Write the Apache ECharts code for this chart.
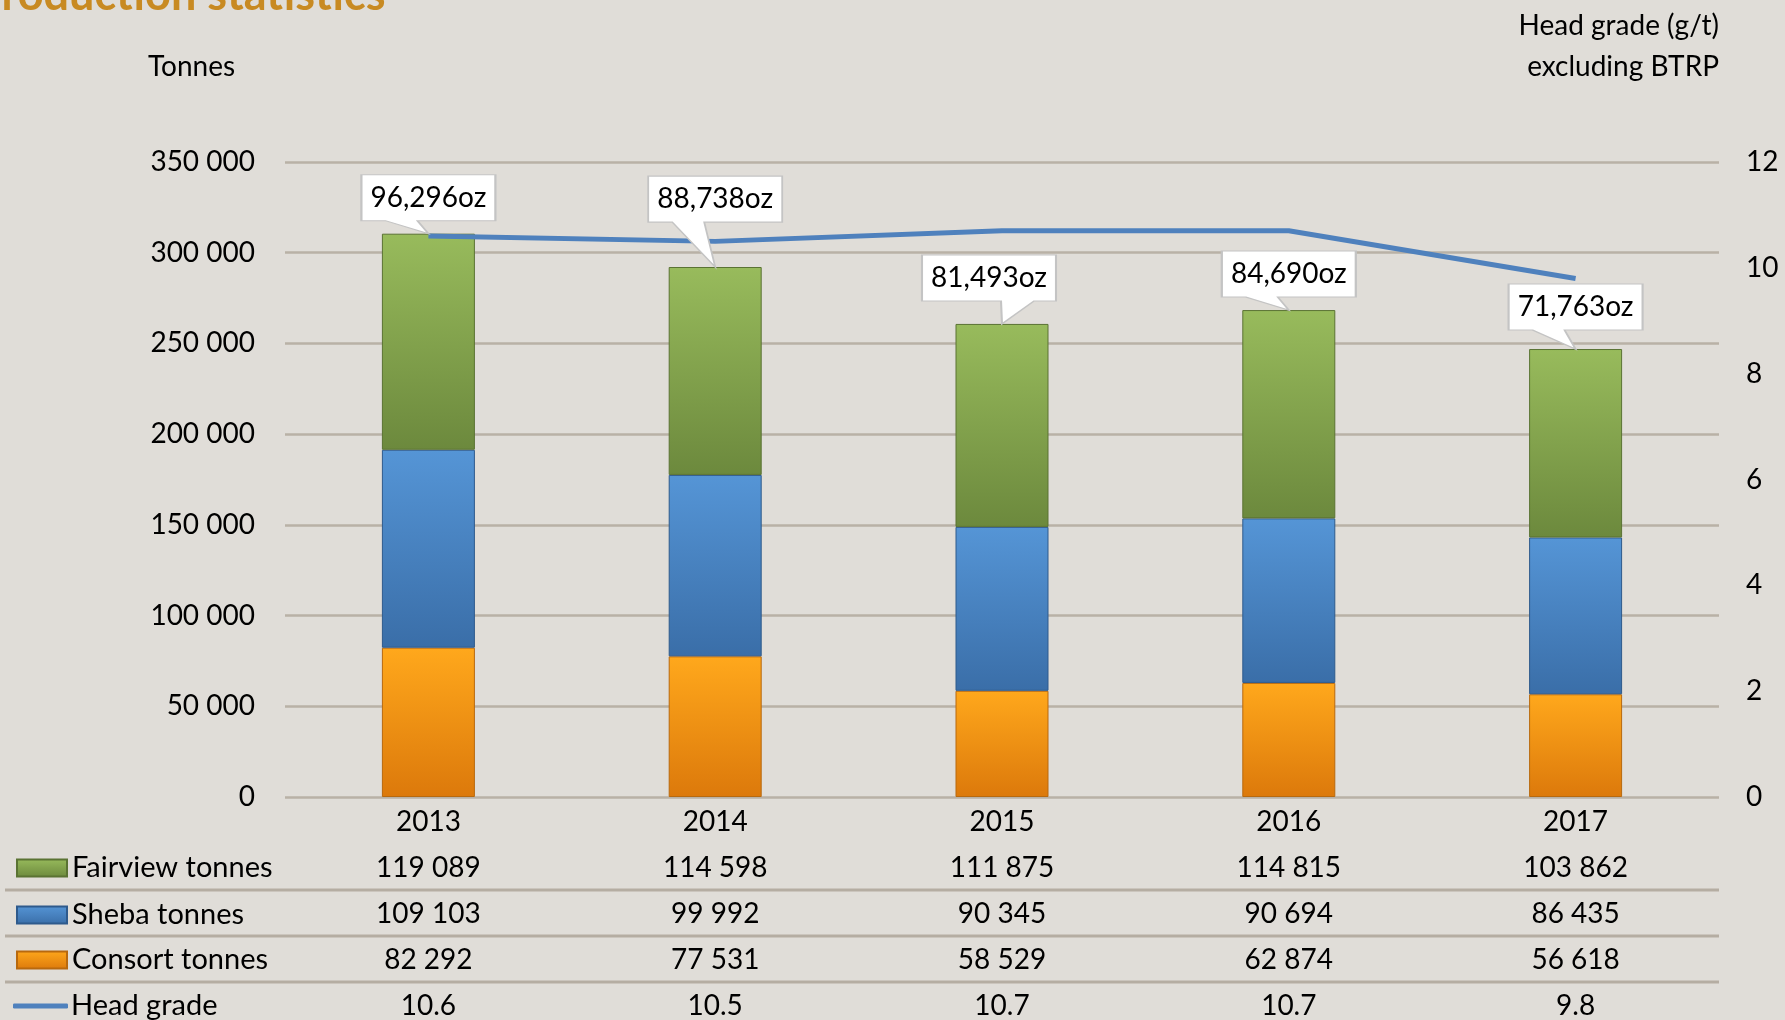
<!DOCTYPE html>
<html>
<head>
<meta charset="utf-8">
<script src="https://cdn.jsdelivr.net/npm/echarts@6/dist/echarts.min.js"></script>
<style>
  html, body { margin: 0; padding: 0; background: #e0ddd8; }
  #main { width: 1785px; height: 1020px; }
</style>
</head>
<body>
<div id="main"></div>
<script>
var years = ['2013', '2014', '2015', '2016', '2017'];
var fairview = [119089, 114598, 111875, 114815, 103862];
var sheba = [109103, 99992, 90345, 90694, 86435];
var consort = [82292, 77531, 58529, 62874, 56618];
var headGrade = [10.6, 10.5, 10.7, 10.7, 9.8];
var ounces = [96296, 88738, 81493, 84690, 71763];

// callout look: tail length and which side the tail sits
var tailLen = [13, 45, 23, 13, 19];
var tailSide = ['left', 'left', 'right', 'left', 'left'];

var FONT = 'Lato';

function spaced(v) {
    return String(v).replace(/\B(?=(\d{3})+(?!\d))/g, ' ');
}
function comma(v) {
    return String(v).replace(/\B(?=(\d{3})+(?!\d))/g, ',');
}
function grad(top, bottom) {
    return new echarts.graphic.LinearGradient(0, 0, 0, 1, [
        { offset: 0, color: top }, { offset: 1, color: bottom }
    ]);
}

var W = 134, H = 46;
var callouts = years.map(function (y, i) {
    var h = tailLen[i];
    var total = fairview[i] + sheba[i] + consort[i];
    var path, tipX;
    if (tailSide[i] === 'left') {
        tipX = 67;
        path = 'path://M0,0 L134,0 L134,46 L56,46 L67,' + (46 + h) + ' L24,46 L0,46 Z';
    } else {
        tipX = 80;
        path = 'path://M0,0 L134,0 L134,46 L112,46 L80,' + (46 + h) + ' L79,46 L0,46 Z';
    }
    return {
        coord: [i, total],
        value: ounces[i],
        symbol: path,
        symbolKeepAspect: false,
        symbolSize: [W, H + h],
        symbolOffset: [67 - tipX, -(H + h) / 2],
        label: { offset: [0, -h / 2] }
    };
});

// one legend per table row
var legendRows = [
    { name: 'Fairview tonnes', top: 848 },
    { name: 'Sheba tonnes', top: 895 },
    { name: 'Consort tonnes', top: 940 },
    { name: 'Head grade', top: 986 }
];
var legends = legendRows.map(function (r) {
    var isLine = r.name === 'Head grade';
    return {
        left: isLine ? 8 : 11,
        top: r.top,
        icon: isLine ? 'roundRect' : 'rect',
        itemWidth: isLine ? 55 : 50,
        itemHeight: isLine ? 5 : 17,
        itemGap: 0,
        selectedMode: false,
        data: [r.name],
        textStyle: { fontFamily: FONT, fontSize: 29, color: '#000', lineHeight: 30, padding: [0, 0, 0, isLine ? -2 : 0] }
    };
});

var chart = echarts.init(document.getElementById('main'));
var option = {
    backgroundColor: '#e0ddd8',
    animation: false,
    textStyle: { fontFamily: FONT },
    grid: { left: 285, right: 66, top: 162, bottom: 223, outerBoundsMode: 'none', containLabel: false },
    legend: legends,
    xAxis: {
        type: 'category',
        data: years,
        axisLine: { show: false },
        axisTick: { show: false },
        axisLabel: {
            interval: 0,
            margin: 2,
            fontFamily: FONT,
            fontSize: 28,
            color: '#000',
            lineHeight: 46,
            formatter: function (val, idx) {
                return [val, spaced(fairview[idx]), spaced(sheba[idx]),
                    spaced(consort[idx]), headGrade[idx].toFixed(1)].join('\n');
            }
        }
    },
    yAxis: [{
        type: 'value',
        min: 0,
        max: 350000,
        interval: 50000,
        axisLine: { show: false },
        axisTick: { show: false },
        axisLabel: {
            margin: 30, fontFamily: FONT, fontSize: 28, color: '#000',
            formatter: spaced
        },
        splitLine: { lineStyle: { color: '#b9b1a6', width: 2.5 } }
    }, {
        type: 'value',
        min: 0,
        max: 12,
        interval: 2,
        axisLine: { show: false },
        axisTick: { show: false },
        axisLabel: { margin: 27, fontFamily: FONT, fontSize: 28, color: '#000' },
        splitLine: { show: false }
    }],
    series: [{
        name: 'Consort tonnes',
        type: 'bar',
        stack: 'tonnes',
        barWidth: 93,
        data: consort,
        itemStyle: { color: grad('#ffa81c', '#dc790b'), borderColor: '#b8690e', borderWidth: 1 }
    }, {
        name: 'Sheba tonnes',
        type: 'bar',
        stack: 'tonnes',
        barWidth: 93,
        data: sheba,
        itemStyle: { color: grad('#5595d6', '#3a6ea8'), borderColor: '#2e5a8c', borderWidth: 1 }
    }, {
        name: 'Fairview tonnes',
        type: 'bar',
        stack: 'tonnes',
        barWidth: 93,
        data: fairview,
        itemStyle: { color: grad('#98bb5c', '#6c893d'), borderColor: '#5a7333', borderWidth: 1 },
        markPoint: {
            z: 10,
            silent: true,
            itemStyle: { color: '#ffffff', borderColor: '#c4c4c4', borderWidth: 1.5 },
            label: {
                show: true,
                position: 'inside',
                fontFamily: FONT,
                fontSize: 28,
                color: '#000',
                formatter: function (p) { return comma(p.value) + 'oz'; }
            },
            data: callouts
        }
    }, {
        name: 'Head grade',
        type: 'line',
        yAxisIndex: 1,
        z: 5,
        data: headGrade,
        symbol: 'none',
        lineStyle: { color: '#4f81bd', width: 5 },
        itemStyle: { color: '#4f81bd' }
    }],
    graphic: [
        { type: 'text', left: -26, top: -27,
          style: { text: 'Production statistics', fontFamily: FONT, fontWeight: 'bold', fontSize: 45, fill: '#c88a22' } },
        { type: 'text', left: 148, top: 53,
          style: { text: 'Tonnes', fontFamily: FONT, fontSize: 28, fill: '#000' } },
        { type: 'text', right: 66, top: 12,
          style: { text: 'Head grade (g/t)', fontFamily: FONT, fontSize: 28, fill: '#000' } },
        { type: 'text', right: 66, top: 53,
          style: { text: 'excluding BTRP', fontFamily: FONT, fontSize: 28, fill: '#000' } },
        { type: 'line', shape: { x1: 5, y1: 890, x2: 1719, y2: 890 }, style: { stroke: '#b5ada2', lineWidth: 3 } },
        { type: 'line', shape: { x1: 5, y1: 936, x2: 1719, y2: 936 }, style: { stroke: '#b5ada2', lineWidth: 3 } },
        { type: 'line', shape: { x1: 5, y1: 982, x2: 1719, y2: 982 }, style: { stroke: '#b5ada2', lineWidth: 3 } }
    ]
};
chart.setOption(option);
</script>
</body>
</html>
